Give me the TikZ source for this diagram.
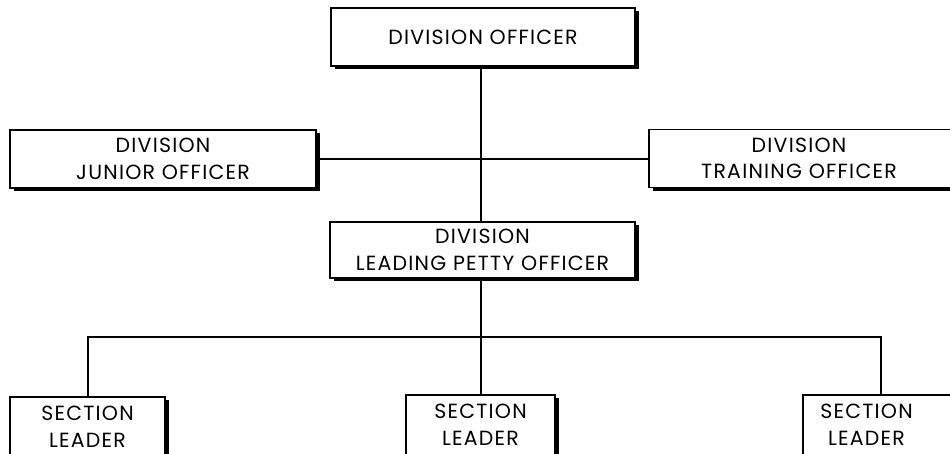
\documentclass[tikz,border=0pt]{standalone}
\usepackage{fontspec}
\setmainfont{Poppins}[LetterSpace=6]
\usetikzlibrary{shadows}
\begin{document}
\begin{tikzpicture}[x=1pt,y=-1pt,
  boxfont/.style={font=\fontsize{20.5}{26.5}\selectfont},
  orgbox/.style={draw=black, line width=1.2pt, fill=white, rectangle, inner sep=0pt,
    align=center, boxfont,
    drop shadow={shadow xshift=3.5pt, shadow yshift=-3pt, fill=black, opacity=1}},
  link/.style={draw=black, line width=2pt}]
\useasboundingbox (0,0) rectangle (950,453);
\clip (0,0) rectangle (950,453);
\fill[white] (0,0) rectangle (950,453);

% officers
\node[orgbox, minimum width=304pt, minimum height=58pt] (do) at (483,37) {DIVISION OFFICER};
\node[orgbox, minimum width=306pt, minimum height=58pt] (jr) at (163,159) {DIVISION\\JUNIOR OFFICER};
\node[orgbox, minimum width=310pt, minimum height=58pt,
  label={[boxfont, align=center, xshift=-5pt]center:{DIVISION\\TRAINING OFFICER}}]
  (tr) at (804,158.5) {};
\node[orgbox, minimum width=305pt, minimum height=56pt] (lpo) at (482.5,250) {DIVISION\\LEADING PETTY OFFICER};

% section leaders
\node[orgbox, minimum width=155pt, minimum height=60pt] (s1) at (87.5,427) {SECTION\\LEADER};
\node[orgbox, minimum width=149pt, minimum height=60pt] (s2) at (480.5,425) {SECTION\\LEADER};
\node[orgbox, minimum width=155pt, minimum height=60pt,
  label={[boxfont, align=center, xshift=-14pt]center:{SECTION\\LEADER}}]
  (s3) at (880.5,425) {};

\coordinate (bus) at (481,337);

% connectors
\draw[link] (jr.east) -- (jr.east -| tr.west);
\draw[link] (do.south -| 481,0) -- (lpo.north -| 481,0);
\draw[link] (lpo.south -| bus) -- (bus);
\draw[link] (s1.north) -- (s1.north |- bus) -- (s3.north |- bus) -- (s3.north);
\draw[link] (s2.north) -- (s2.north |- bus);
\end{tikzpicture}
\end{document}
